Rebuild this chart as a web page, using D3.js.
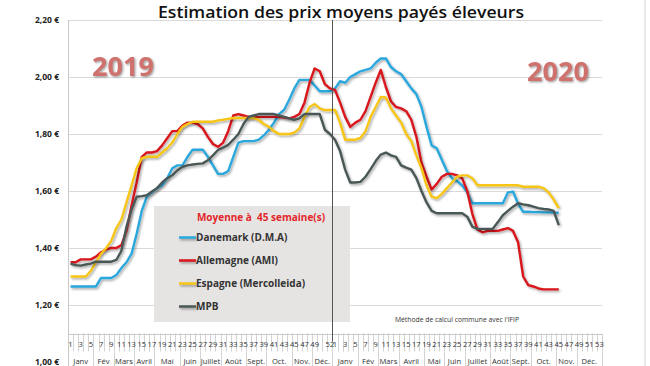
<!DOCTYPE html>
<html><head><meta charset="utf-8">
<script src="https://cdn.jsdelivr.net/npm/d3@7"></script>
<style>
html,body{margin:0;padding:0;background:#fff;}
svg{display:block;font-family:"Open Sans",sans-serif;}
</style></head>
<body>
<svg id="c" width="650" height="366"></svg>
<script>
// ---------- DATA ----------
const weeks2019 = [1,2,3,4,5,6,7,8,9,10,11,12,13,14,15,16,17,18,19,20,21,22,23,24,25,26,27,28,29,30,31,32,33,34,35,36,37,38,39,40,41,42,43,44,45,46,47,48,49,50,51,52];
const weeks2020 = [1,2,3,4,5,6,7,8,9,10,11,12,13,14,15,16,17,18,19,20,21,22,23,24,25,26,27,28,29,30,31,32,33,34,35,36,37,38,39,40,41,42,43,44,45,46,47,48,49,50,51,52,53];
const monthNames = ["Janv","Fév","Mars","Avril","Mai","Juin","Juillet","Août","Sept.","Oct.","Nov.","Déc."];
const monthWeeks2019 = [5,4,4,4,5,4,4,5,4,5,4,4];
const monthWeeks2020 = [5,4,4,5,4,4,5,4,4,5,4,5];
const yTicks = [1.00,1.20,1.40,1.60,1.80,2.00,2.20];
const seriesNames = ["Danemark (D.M.A)","Allemagne (AMI)","Espagne (Mercolleida)","MPB"];

const danemark2019 = [1.265,1.265,1.265,1.265,1.265,1.265,1.295,1.295,1.295,1.305,1.33,1.35,1.38,1.45,1.53,1.58,1.595,1.61,1.62,1.645,1.68,1.69,1.69,1.72,1.745,1.745,1.745,1.72,1.69,1.66,1.66,1.67,1.72,1.77,1.775,1.775,1.775,1.78,1.795,1.815,1.84,1.87,1.885,1.92,1.96,1.99,1.99,1.99,1.97,1.95,1.95,1.95];
const danemark2020 = [1.96,1.985,1.98,2.00,2.01,2.02,2.025,2.03,2.05,2.065,2.065,2.035,2.02,2.01,1.985,1.96,1.94,1.895,1.825,1.76,1.75,1.71,1.67,1.645,1.635,1.62,1.595,1.557,1.557,1.557,1.557,1.557,1.557,1.557,1.595,1.598,1.555,1.527,1.527,1.526,1.526,1.525,1.525,1.524,1.524];

const allemagne2019 = [1.35,1.35,1.36,1.36,1.36,1.37,1.385,1.395,1.40,1.40,1.41,1.46,1.55,1.63,1.72,1.735,1.735,1.74,1.76,1.785,1.81,1.81,1.83,1.84,1.84,1.835,1.82,1.79,1.765,1.755,1.77,1.81,1.865,1.87,1.865,1.86,1.86,1.86,1.86,1.86,1.86,1.86,1.858,1.855,1.86,1.87,1.91,1.98,2.03,2.02,1.975,1.96];
const allemagne2020 = [1.955,1.91,1.86,1.825,1.84,1.85,1.88,1.93,1.98,2.025,1.965,1.915,1.895,1.89,1.88,1.85,1.79,1.70,1.65,1.605,1.625,1.65,1.66,1.66,1.655,1.645,1.60,1.52,1.465,1.455,1.46,1.46,1.46,1.465,1.47,1.46,1.42,1.30,1.27,1.265,1.258,1.255,1.255,1.255,1.255];

const espagne2019 = [1.30,1.30,1.30,1.30,1.32,1.35,1.38,1.40,1.425,1.47,1.50,1.56,1.62,1.68,1.715,1.72,1.72,1.72,1.735,1.75,1.77,1.80,1.825,1.835,1.843,1.843,1.843,1.843,1.843,1.848,1.85,1.853,1.856,1.856,1.856,1.856,1.856,1.85,1.835,1.825,1.81,1.80,1.80,1.80,1.805,1.82,1.86,1.895,1.905,1.89,1.884,1.884];
const espagne2020 = [1.884,1.84,1.78,1.78,1.78,1.786,1.81,1.86,1.895,1.93,1.928,1.89,1.865,1.84,1.80,1.775,1.725,1.68,1.62,1.58,1.575,1.59,1.61,1.63,1.65,1.655,1.655,1.645,1.62,1.62,1.62,1.62,1.62,1.62,1.62,1.62,1.62,1.615,1.615,1.615,1.615,1.61,1.595,1.57,1.54];

const mpb2019 = [1.345,1.34,1.338,1.342,1.345,1.352,1.352,1.352,1.352,1.358,1.39,1.475,1.535,1.58,1.582,1.585,1.598,1.61,1.63,1.645,1.655,1.672,1.685,1.69,1.693,1.695,1.697,1.708,1.725,1.744,1.752,1.762,1.78,1.80,1.835,1.86,1.865,1.87,1.87,1.87,1.87,1.865,1.86,1.855,1.85,1.855,1.87,1.87,1.87,1.87,1.815,1.80];
const mpb2020 = [1.78,1.74,1.675,1.63,1.63,1.632,1.65,1.677,1.705,1.728,1.735,1.725,1.72,1.69,1.682,1.675,1.645,1.60,1.56,1.53,1.522,1.522,1.522,1.522,1.522,1.522,1.51,1.475,1.467,1.467,1.467,1.467,1.49,1.515,1.53,1.545,1.557,1.553,1.55,1.545,1.54,1.537,1.535,1.53,1.48];

// ---------- BUILD ----------
const cats = weeks2019.map(w => "2019-" + w).concat(weeks2020.map(w => "2020-" + w));
const seriesData = [
  {name: seriesNames[0], color: "#2aa7dc", v2019: danemark2019, v2020: danemark2020},
  {name: seriesNames[1], color: "#d8161c", v2019: allemagne2019, v2020: allemagne2020},
  {name: seriesNames[2], color: "#f6c519", v2019: espagne2019, v2020: espagne2020},
  {name: seriesNames[3], color: "#4a5857", v2019: mpb2019, v2020: mpb2020}
];
seriesData.forEach(s => {
  s.points = s.v2019.map((v, i) => ({c: "2019-" + weeks2019[i], v}))
    .concat(s.v2020.map((v, i) => ({c: "2020-" + weeks2020[i], v})));
});

const svg = d3.select("#c");
const L = 68, R = 602, T = 20, B = 362;
const x = d3.scaleBand().domain(cats).range([L, R]).paddingInner(0).paddingOuter(0);
const y = d3.scaleLinear().domain([1.0, 2.2]).range([B, T]);
const xc = c => x(c) + x.bandwidth() / 2;
const axisY = y(1.10);

const defs = svg.append("defs");
const f = defs.append("filter").attr("id", "sh").attr("filterUnits", "userSpaceOnUse")
  .attr("x", 0).attr("y", 0).attr("width", 650).attr("height", 366);
f.append("feDropShadow").attr("dx", 1.3).attr("dy", 1.6).attr("stdDeviation", 0.9).attr("flood-color", "#000").attr("flood-opacity", 0.35);
const f2 = defs.append("filter").attr("id", "tsh").attr("filterUnits", "userSpaceOnUse")
  .attr("x", 0).attr("y", 0).attr("width", 650).attr("height", 366);
f2.append("feDropShadow").attr("dx", 1.2).attr("dy", 1.2).attr("stdDeviation", 0.8).attr("flood-color", "#555").attr("flood-opacity", 0.6);

// right frame line
svg.append("line").attr("x1", 645).attr("x2", 645).attr("y1", 0).attr("y2", 366).attr("stroke", "#d4d4d4").attr("stroke-width", 1);

// gridlines
svg.append("g").selectAll("line").data(yTicks.filter(t => t > 1.0)).join("line")
  .attr("x1", L).attr("x2", R).attr("y1", d => Math.round(y(d)) + 0.5).attr("y2", d => Math.round(y(d)) + 0.5)
  .attr("stroke", "#d9d9d9").attr("stroke-width", 1);

// y axis
const yAxis = d3.axisLeft(y).tickValues(yTicks).tickSize(0).tickPadding(9)
  .tickFormat(d => d3.format(".2f")(d).replace(".", ",") + " €");
const gy = svg.append("g").attr("transform", `translate(${L},0)`).call(yAxis);
gy.select(".domain").remove();
gy.selectAll("text").attr("font-size", 8.5).attr("font-weight", 700).attr("fill", "#222")
  .attr("font-family", "'Open Sans',sans-serif");
svg.append("line").attr("x1", L + 0.5).attr("x2", L + 0.5).attr("y1", T).attr("y2", 366).attr("stroke", "#c8c8c8");

// x axis line and ticks
svg.append("line").attr("x1", L).attr("x2", R).attr("y1", Math.round(axisY) + 0.5).attr("y2", Math.round(axisY) + 0.5).attr("stroke", "#c8c8c8");
const gx = svg.append("g");
gx.selectAll("line.wk").data(cats.concat(["end"])).join("line").attr("class", "wk")
  .attr("x1", (d, i) => Math.round(i < cats.length ? x(d) : R) + 0.5)
  .attr("x2", (d, i) => Math.round(i < cats.length ? x(d) : R) + 0.5)
  .attr("y1", axisY).attr("y2", axisY + 18).attr("stroke", "#c8c8c8").attr("stroke-width", 0.8);
// week labels
gx.selectAll("text.wk").data(cats.filter(c => {
    const [yr, w] = c.split("-").map(Number);
    if (yr === 2019) return (w % 2 === 1 && w !== 51) || w === 52;
    return w % 2 === 1;
  })).join("text").attr("class", "wk")
  .attr("x", d => xc(d)).attr("y", axisY + 13.5).attr("text-anchor", "middle")
  .attr("font-size", 7.6).attr("fill", "#333").text(d => d.split("-")[1]);
// month groups
function monthGroups(year, counts) {
  let start = 0; const out = [];
  counts.forEach((n, i) => { out.push({name: monthNames[i], first: `${year}-${start + 1}`, last: `${year}-${start + n}`}); start += n; });
  return out;
}
const groups = monthGroups(2019, monthWeeks2019).concat(monthGroups(2020, monthWeeks2020));
gx.selectAll("line.mo").data(groups).join("line").attr("class", "mo")
  .attr("x1", d => Math.round(x(d.first)) + 0.5).attr("x2", d => Math.round(x(d.first)) + 0.5)
  .attr("y1", axisY + 18).attr("y2", 366).attr("stroke", "#c8c8c8").attr("stroke-width", 0.8);
gx.append("line").attr("x1", R + 0.5).attr("x2", R + 0.5).attr("y1", axisY + 18).attr("y2", 366).attr("stroke", "#c8c8c8").attr("stroke-width", 0.8);
gx.selectAll("text.mo").data(groups).join("text").attr("class", "mo")
  .attr("x", d => (x(d.first) + x(d.last) + x.bandwidth()) / 2).attr("y", 364)
  .attr("text-anchor", "middle").attr("font-size", 7.6).attr("fill", "#333").text(d => d.name);

// year labels
svg.append("text").attr("x", 123).attr("y", 76).attr("text-anchor", "middle").attr("font-size", 27).attr("font-weight", 700)
  .attr("fill", "#cf716c").attr("filter", "url(#tsh)").attr("font-family", "'Open Sans',sans-serif").text("2019");
svg.append("text").attr("x", 558).attr("y", 81).attr("text-anchor", "middle").attr("font-size", 27).attr("font-weight", 700)
  .attr("fill", "#cf716c").attr("filter", "url(#tsh)").attr("font-family", "'Open Sans',sans-serif").text("2020");

// legend box
const lg = svg.append("g");
lg.append("rect").attr("x", 154).attr("y", 206).attr("width", 196).attr("height", 116).attr("fill", "#e6e4e2");
lg.append("text").attr("x", 261).attr("y", 221).attr("text-anchor", "middle").attr("font-size", 10).attr("font-weight", 700)
  .attr("fill", "#e3262b").attr("xml:space", "preserve").text("Moyenne à  45 semaine(s)");
seriesData.forEach((s, i) => {
  const yy = 241 + i * 23;
  lg.append("line").attr("x1", 179).attr("x2", 196).attr("y1", yy - 3.5).attr("y2", yy - 3.5)
    .attr("stroke", s.color).attr("stroke-width", 2.5).attr("filter", "url(#sh)");
  lg.append("text").attr("x", 196).attr("y", yy).attr("font-size", 10).attr("font-weight", 700).attr("fill", "#333").text(s.name);
});

// note
svg.append("text").attr("x", 457).attr("y", 322).attr("text-anchor", "middle").attr("font-size", 6.8).attr("fill", "#333")
  .text("Méthode de calcul commune avec l'IFIP");

// series
const line = d3.line().x(d => xc(d.c)).y(d => y(d.v));
svg.append("g").selectAll("path").data(seriesData).join("path")
  .attr("d", d => line(d.points)).attr("fill", "none").attr("stroke", d => d.color)
  .attr("stroke-width", 2.4).attr("stroke-linejoin", "round").attr("filter", "url(#sh)");

// year separator
const sepX = Math.round(x("2020-1")) + 0.5;
svg.append("line").attr("x1", sepX).attr("x2", sepX).attr("y1", T).attr("y2", axisY + 8).attr("stroke", "#555").attr("stroke-width", 1);

// title
const title = svg.append("text").attr("x", 341).attr("y", 18).attr("text-anchor", "middle").attr("font-size", 16)
  .attr("font-weight", 600).attr("fill", "#111").text("Estimation des prix moyens payés éleveurs");
const tw = title.node().getComputedTextLength();
title.attr("textLength", 366).attr("lengthAdjust", "spacingAndGlyphs");
</script>
</body></html>
